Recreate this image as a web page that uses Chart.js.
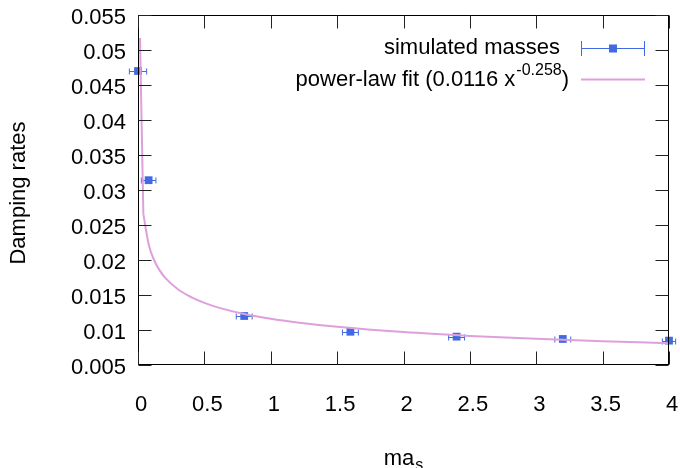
<!DOCTYPE html>
<html><head><meta charset="utf-8">
<script src="https://cdn.jsdelivr.net/npm/chart.js@4.4.1/dist/chart.umd.min.js"></script>
<style>html,body{margin:0;padding:0;background:#fff}canvas{display:block}</style>
</head><body>
<canvas id="c" width="680" height="468"></canvas>
<script>
// ---- data ----
const massX   = [0, 0.08, 0.8, 1.6, 2.4, 3.2, 4.0];
const dampY   = [0.0470, 0.0314, 0.0120, 0.00975, 0.00905, 0.00872, 0.00848];
const massErr = [0.065, 0.055, 0.06, 0.06, 0.06, 0.06, 0.05];
const fitSteepX = [0.015, 0.0404];
const fitSteepY = [0.0517, 0.02655];
const fitX = [0.0404, 0.0808, 0.121, 0.162, 0.202, 0.303, 0.404, 0.505, 0.606, 0.8, 1.0, 1.2, 1.5, 2.0, 2.5, 3.0, 3.5, 4.0];
const fitY = [0.02655, 0.02220, 0.02000, 0.01855, 0.01752, 0.01578, 0.01466, 0.01384, 0.01320, 0.01229, 0.0116, 0.01107, 0.01045, 0.00970, 0.00916, 0.00874, 0.00840, 0.00811];
const xTicks = [0, 0.5, 1, 1.5, 2, 2.5, 3, 3.5, 4];
const xTickLabels = ['0', '0.5', '1', '1.5', '2', '2.5', '3', '3.5', '4'];
const yTicks = [0.005, 0.01, 0.015, 0.02, 0.025, 0.03, 0.035, 0.04, 0.045, 0.05, 0.055];
const yTickLabels = ['0.005', '0.01', '0.015', '0.02', '0.025', '0.03', '0.035', '0.04', '0.045', '0.05', '0.055'];
const seriesName = 'simulated masses';
const fitName = 'power-law fit (0.0116 x';
const fitExp = '-0.258';
const yTitle = 'Damping rates';
const xTitleMain = 'ma';
const xTitleSub = 's';

const FONT = '"Liberation Sans", Arial, Helvetica, sans-serif';
const BLUE = '#4169e1';
const PLUM = '#dda0dd';

const framePlugin = {
  id: 'frame',
  beforeDatasetsDraw(chart) {
    const ctx = chart.ctx, xs = chart.scales.x, ys = chart.scales.y;
    ctx.save();
    ctx.strokeStyle = BLUE; ctx.lineWidth = 1;
    massX.forEach((x, i) => {
      const py = Math.round(ys.getPixelForValue(dampY[i])) + 0.5;
      const x0 = xs.getPixelForValue(x - massErr[i]);
      const x1 = xs.getPixelForValue(x + massErr[i]);
      ctx.beginPath();
      ctx.moveTo(x0, py); ctx.lineTo(x1, py);
      ctx.moveTo(x0, py - 3); ctx.lineTo(x0, py + 3);
      ctx.moveTo(x1, py - 3); ctx.lineTo(x1, py + 3);
      ctx.stroke();
    });
    ctx.restore();
  },
  afterDatasetsDraw(chart) {
    const ctx = chart.ctx, a = chart.chartArea, xs = chart.scales.x, ys = chart.scales.y;
    ctx.save();
    ctx.strokeStyle = '#000'; ctx.lineWidth = 1;
    const L = Math.round(a.left) + 0.5, R = Math.round(a.right) - 0.5;
    const T = Math.round(a.top) + 0.5, B = Math.round(a.bottom) - 0.5;
    ctx.strokeRect(L, T, R - L, B - T);
    const tl = 13;
    ctx.strokeStyle = '#222';
    ctx.beginPath();
    xTicks.forEach(v => {
      const px = Math.round(xs.getPixelForValue(v)) + 0.5;
      ctx.moveTo(px, B); ctx.lineTo(px, B - tl);
      ctx.moveTo(px, T); ctx.lineTo(px, T + tl);
    });
    yTicks.forEach(v => {
      const py = Math.round(ys.getPixelForValue(v)) + 0.5;
      ctx.moveTo(L, py); ctx.lineTo(L + tl, py);
      ctx.moveTo(R, py); ctx.lineTo(R - tl, py);
    });
    ctx.stroke();

    // axis titles
    ctx.fillStyle = '#000';
    ctx.font = '22px ' + FONT;
    ctx.save();
    ctx.translate(19, 193);
    ctx.rotate(-Math.PI / 2);
    ctx.textAlign = 'center'; ctx.textBaseline = 'middle';
    ctx.fillText(yTitle, 0, 0);
    ctx.restore();

    ctx.textAlign = 'left'; ctx.textBaseline = 'alphabetic';
    ctx.font = '22px ' + FONT;
    const wm = ctx.measureText(xTitleMain).width;
    ctx.font = '16px ' + FONT;
    const ws = ctx.measureText(xTitleSub).width;
    const sx = 403 - (wm + ws) / 2;
    ctx.font = '22px ' + FONT;
    ctx.fillText(xTitleMain, sx, 465);
    ctx.font = '16px ' + FONT;
    ctx.fillText(xTitleSub, sx + wm + 1, 470);

    // legend
    ctx.font = '22px ' + FONT;
    ctx.textAlign = 'right'; ctx.textBaseline = 'middle';
    ctx.fillText(seriesName, 560, 48);
    ctx.strokeStyle = BLUE; ctx.lineWidth = 1;
    ctx.beginPath();
    ctx.moveTo(581, 48.5); ctx.lineTo(645, 48.5);
    ctx.moveTo(581.5, 41); ctx.lineTo(581.5, 56);
    ctx.moveTo(644.5, 41); ctx.lineTo(644.5, 56);
    ctx.stroke();
    ctx.fillStyle = BLUE;
    ctx.fillRect(609, 44.5, 8, 8);

    ctx.fillStyle = '#000';
    ctx.textAlign = 'left';
    ctx.font = '22px ' + FONT;
    const w1 = ctx.measureText(fitName).width;
    const w3 = ctx.measureText(')').width;
    ctx.font = '16px ' + FONT;
    const w2 = ctx.measureText(fitExp).width;
    const start = 568 - (w1 + w2 + w3);
    ctx.font = '22px ' + FONT;
    ctx.fillText(fitName, start, 80);
    ctx.font = '16px ' + FONT;
    ctx.fillText(fitExp, start + w1 + 1, 71);
    ctx.font = '22px ' + FONT;
    ctx.fillText(')', start + w1 + w2 + 1, 80);
    ctx.strokeStyle = PLUM; ctx.lineWidth = 2;
    ctx.beginPath();
    ctx.moveTo(581, 79.5); ctx.lineTo(645, 79.5);
    ctx.stroke();
    ctx.restore();
  }
};

new Chart(document.getElementById('c'), {
  type: 'scatter',
  data: {
    datasets: [
      {
        label: 'fit-steep',
        data: fitSteepX.map((x, i) => ({ x, y: fitSteepY[i] })),
        showLine: true, borderColor: PLUM, borderWidth: 2, pointRadius: 0, tension: 0, order: 0
      },
      {
        label: 'fit',
        data: fitX.map((x, i) => ({ x, y: fitY[i] })),
        showLine: true, borderColor: PLUM, borderWidth: 2, pointRadius: 0,
        cubicInterpolationMode: 'monotone', order: 0
      },
      {
        label: seriesName,
        data: massX.map((x, i) => ({ x, y: dampY[i] })),
        pointStyle: 'rect', pointRadius: 5.5, pointBackgroundColor: BLUE, pointBorderColor: BLUE,
        pointBorderWidth: 0, clip: false, order: 1
      }
    ]
  },
  options: {
    responsive: false,
    animation: false,
    devicePixelRatio: 1,
    layout: { padding: { top: 15, right: 11, left: 0, bottom: 0 } },
    plugins: { legend: { display: false }, tooltip: { enabled: false } },
    scales: {
      x: {
        type: 'linear', min: 0, max: 4,
        afterBuildTicks: s => { s.ticks = xTicks.map(v => ({ value: v })); },
        afterFit: s => { s.height = 103; s.paddingLeft = 0; s.paddingRight = 0; },
        grid: { display: false, drawTicks: false },
        border: { display: false },
        ticks: {
          color: '#000', font: { family: FONT, size: 22 }, padding: 27, labelOffset: 3,
          maxRotation: 0, autoSkip: false,
          callback: (v) => { const i = xTicks.indexOf(v); return i >= 0 ? xTickLabels[i] : ''; }
        }
      },
      y: {
        type: 'linear', min: 0.005, max: 0.055,
        afterBuildTicks: s => { s.ticks = yTicks.map(v => ({ value: v })); },
        afterFit: s => { s.width = 138; s.paddingTop = 0; s.paddingBottom = 0; },
        grid: { display: false, drawTicks: false },
        border: { display: false },
        ticks: {
          color: '#000', font: { family: FONT, size: 22 }, padding: 12, labelOffset: 3,
          autoSkip: false,
          callback: (v) => { const i = yTicks.findIndex(t => Math.abs(t - v) < 1e-9); return i >= 0 ? yTickLabels[i] : ''; }
        }
      }
    }
  },
  plugins: [framePlugin]
});
</script>
</body></html>
